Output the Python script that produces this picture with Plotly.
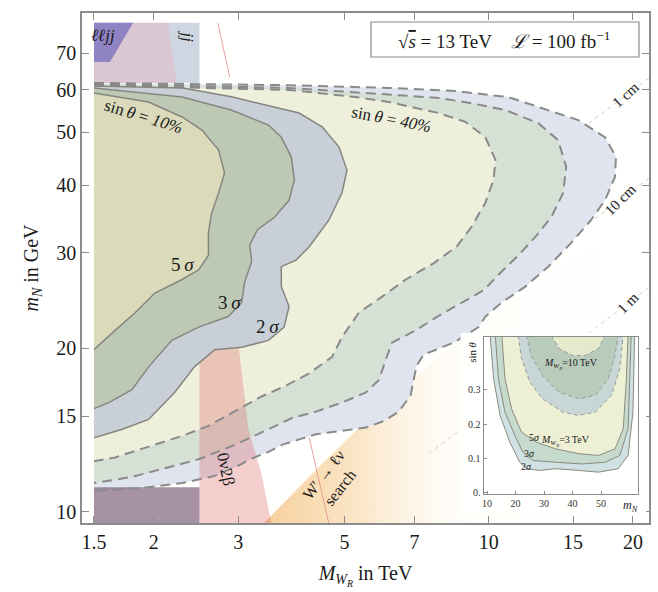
import math
import plotly.graph_objects as go

# ---------------- data (main panel: M_WR in TeV, m_N in GeV) ----------------
# sin(theta)=40% contours (dashed)
d2_x = [1.50, 3.83, 6.19, 8.53, 10.99, 12.69, 15.37, 17.48, 18.43, 18.34, 17.48, 16.35, 14.86, 13.31, 11.92,
        10.63, 9.84, 9.52, 8.45, 7.32, 7.07, 6.97, 6.87, 6.49, 6.04, 5.54, 4.87, 4.36, 4.02, 3.71, 3.47, 3.17,
        3.02, 2.68, 2.29, 1.89, 1.50]
d2_y = [61.7, 61.1, 60.4, 59.6, 58.1, 55.7, 52.7, 49.0, 45.1, 41.4, 37.5, 34.5, 31.3, 28.3, 26.0, 24.3, 22.9,
        21.9, 20.5, 19.5, 18.6, 17.5, 16.4, 15.3, 14.7, 14.3, 14.1, 13.9, 13.6, 13.3, 12.9, 12.5, 12.2, 11.65,
        11.3, 11.07, 10.93]
d3_x = [1.50, 3.83, 7.86, 9.20, 10.83, 12.69, 13.96, 14.51, 14.30, 13.50, 12.51, 11.53, 10.63, 9.75, 8.65,
        7.75, 7.04, 6.28, 6.10, 5.90, 5.54, 4.94, 4.36, 3.89, 3.47, 2.90, 2.48, 2.11, 1.80, 1.50]
d3_y = [61.4, 60.4, 57.9, 56.6, 55.0, 52.0, 48.4, 43.2, 38.7, 34.9, 32.1, 29.7, 27.7, 25.6, 24.1, 22.8, 21.6,
        20.5, 19.1, 17.5, 16.6, 15.9, 15.3, 14.9, 14.2, 13.2, 12.5, 12.05, 11.6, 11.3]
d5_x = [1.50, 3.83, 5.28, 6.19, 7.86, 8.94, 9.84, 10.33, 10.23, 9.84, 9.20, 8.57, 7.67, 6.71, 5.98, 5.36,
        4.94, 4.71, 4.22, 3.78, 3.35, 2.95, 2.60, 2.29, 1.95, 1.66, 1.50]
d5_y = [61.1, 59.9, 58.1, 56.9, 54.3, 52.3, 49.0, 44.5, 40.9, 37.1, 33.5, 30.8, 28.7, 26.8, 24.9, 23.3, 21.0,
        19.3, 18.0, 17.1, 16.3, 15.3, 14.4, 13.8, 13.2, 12.6, 12.4]
# sin(theta)=10% contours (solid)
s2_x = [1.50, 2.30, 2.92, 4.02, 4.49, 4.87, 5.06, 4.94, 4.64, 4.22, 3.96, 3.69, 3.69, 3.83, 3.74, 3.47, 3.05,
        2.68, 2.43, 2.21, 1.95, 1.72, 1.50]
s2_y = [60.9, 60.4, 58.1, 54.3, 51.2, 47.0, 42.6, 38.7, 34.5, 30.8, 29.1, 28.3, 26.0, 23.9, 21.9, 20.7, 20.1,
        19.9, 18.5, 16.6, 14.8, 14.2, 13.7]
s3_x = [1.50, 2.29, 2.90, 3.47, 3.69, 3.87, 3.93, 3.83, 3.57, 3.29, 3.17, 3.20, 3.09, 3.05, 2.86, 2.48, 2.18,
        1.95, 1.80, 1.61, 1.50]
s3_y = [60.4, 58.1, 55.0, 51.6, 49.0, 45.1, 40.9, 37.5, 34.9, 33.1, 31.0, 28.9, 26.4, 24.3, 22.9, 21.9, 20.7,
        18.5, 16.8, 15.9, 15.5]
s5_x = [1.50, 1.95, 2.29, 2.52, 2.73, 2.81, 2.73, 2.64, 2.60, 2.60, 2.48, 2.29, 2.01, 1.83, 1.66, 1.50]
s5_y = [59.1, 56.9, 53.4, 50.5, 46.4, 42.1, 38.7, 35.5, 32.7, 29.7, 27.9, 26.8, 25.3, 23.3, 21.6, 19.9]

# excluded regions
wp_x = [3.38, 4.36, 5.36, 9.07, 22.0, 22.0]          # W' -> l nu search
wp_y = [9.5, 11.95, 14.3, 21.6, 37.5, 9.5]
nb_x = [2.49, 3.00, 3.15, 3.35, 3.52, 2.49]           # 0nu2beta
nb_y = [20.5, 20.5, 14.2, 11.8, 9.5, 9.5]
jj_x = [1.50, 2.49, 2.49, 1.50]
jj_y = [61.7, 61.7, 79.6, 79.6]
lljj_x = [1.50, 2.23, 2.14, 1.50]
lljj_y = [61.7, 61.7, 79.6, 79.6]
corner_x = [1.50, 1.62, 1.81, 1.50]
corner_y = [67.4, 67.4, 79.6, 79.6]
low_x = [1.50, 2.49, 2.49, 1.50]
low_y = [9.5, 9.5, 11.1, 11.1]
pl1_x, pl1_y = [2.72, 2.88], [79.6, 63.2]
pl2_x, pl2_y = [4.22, 4.64], [13.7, 9.5]

# decay-length lines
lt_x = [7.49, 21.6]
lt_1cm_y = [31.2, 63.0]
lt_10cm_y = [20.4, 41.2]
lt_1m_y = [12.8, 25.9]

# ticks
x_ticks = [1.5, 2, 3, 5, 7, 10, 15, 20]
x_tick_text = ["1.5", "2", "3", "5", "7", "10", "15", "20"]
y_ticks = [10, 15, 20, 30, 40, 50, 60, 70]
y_tick_text = ["10", "15", "20", "30", "40", "50", "60", "70"]

# ---------------- inset data (m_N in GeV, sin theta) ----------------
is2_x = [11.1, 12.3, 14.6, 18.0, 21.5, 23.8, 28.4, 34.2, 42.2, 49.1, 56.0, 59.5, 61.2, 61.8]
is2_y = [0.46, 0.333, 0.225, 0.147, 0.088, 0.069, 0.064, 0.069, 0.064, 0.059, 0.069, 0.108, 0.234, 0.46]
is3_x = [12.9, 14.0, 16.3, 19.8, 22.6, 26.1, 34.2, 43.4, 51.4, 56.6, 59.5, 60.6]
is3_y = [0.46, 0.333, 0.235, 0.166, 0.117, 0.093, 0.088, 0.083, 0.088, 0.108, 0.186, 0.46]
is5_x = [15.2, 16.3, 18.6, 22.1, 27.3, 34.2, 42.2, 49.1, 54.9, 57.8, 58.9, 59.5]
is5_y = [0.46, 0.333, 0.245, 0.176, 0.147, 0.127, 0.113, 0.108, 0.127, 0.186, 0.333, 0.46]
id2_x = [20.9, 22.1, 25.0, 29.5, 36.5, 42.2, 48.0, 53.7, 56.6, 57.8]
id2_y = [0.46, 0.392, 0.323, 0.274, 0.235, 0.225, 0.235, 0.284, 0.362, 0.46]
id3_x = [23.8, 25.5, 29.5, 35.3, 42.2, 48.0, 52.6, 54.9, 56.0]
id3_y = [0.46, 0.401, 0.342, 0.293, 0.274, 0.284, 0.333, 0.401, 0.46]
id5_x = [32.5, 35.3, 39.9, 44.5, 49.1, 51.4]
id5_y = [0.46, 0.421, 0.401, 0.401, 0.421, 0.46]
in_x_ticks = [10, 20, 30, 40, 50]
in_y_ticks = [0, 0.1, 0.2, 0.3]
in_y_text = ["0.", "0.1", "0.2", "0.3"]

# ---------------- figure ----------------
FONT = "Liberation Serif, Times New Roman, serif"
fig = go.Figure()


def poly(x, y, color, xa="x", ya="y"):
    fig.add_trace(go.Scatter(x=x, y=y, mode="lines", fill="toself", fillcolor=color,
                             line=dict(width=0), hoverinfo="skip", showlegend=False,
                             xaxis=xa, yaxis=ya))


def curve(x, y, color, width, dash="solid", xa="x", ya="y"):
    fig.add_trace(go.Scatter(x=x, y=y, mode="lines", line=dict(color=color, width=width, dash=dash),
                             hoverinfo="skip", showlegend=False, xaxis=xa, yaxis=ya))


# decay length lines
for ly in (lt_1cm_y, lt_10cm_y, lt_1m_y):
    curve(lt_x, ly, "rgba(170,170,170,0.6)", 1, "4px,4px")

# W' search region with fading gradient
fig.add_trace(go.Scatter(x=wp_x, y=wp_y, mode="lines", fill="toself", line=dict(width=0),
                         fillgradient=dict(type="horizontal",
                                           colorscale=[[0, "rgba(240,175,90,0.6)"],
                                                       [0.25, "rgba(244,195,125,0.42)"],
                                                       [0.5, "rgba(252,235,210,0.12)"],
                                                       [1, "rgba(255,255,255,0)"]]),
                         hoverinfo="skip", showlegend=False))

# dashed contour fills
poly(d2_x, d2_y, "#dfe4ee")
poly(d3_x, d3_y, "#d6e1d5")
poly(d5_x, d5_y, "#eef0dc")
# 0nu2beta
poly(nb_x, nb_y, "rgba(222,112,112,0.34)")
# solid contour fills
poly(s2_x, s2_y, "#c8cfd6")
poly(s3_x, s3_y, "#bec9b5")
poly(s5_x, s5_y, "#dbdbbc")
# collider exclusions
poly(jj_x, jj_y, "rgba(120,145,175,0.36)")
poly(lljj_x, lljj_y, "rgba(245,166,184,0.32)")
poly(corner_x, corner_y, "rgba(118,108,190,0.75)")
poly(low_x, low_y, "rgba(120,90,115,0.66)")
curve(pl1_x, pl1_y, "rgba(225,140,140,0.8)", 1)
curve(pl2_x, pl2_y, "rgba(225,140,140,0.8)", 1)

# contour lines
for cx, cy in ((d2_x, d2_y), (d3_x, d3_y), (d5_x, d5_y)):
    curve(cx, cy, "#8a8a8a", 2, "10px,6px")
for cx, cy in ((s2_x, s2_y), (s3_x, s3_y), (s5_x, s5_y)):
    curve(cx, cy, "#868680", 1.5)

# white background for inset (subplot 2) - empty trace so the subplot exists
fig.add_trace(go.Scatter(x=[], y=[], xaxis="x2", yaxis="y2", showlegend=False))

# inset (subplot 3)
for cx, cy, col in ((is2_x, is2_y, "#d0e1e4"), (is3_x, is3_y, "#c6dacd"), (is5_x, is5_y, "#eef0d5"),
                    (id2_x, id2_y, "#c8d6d6"), (id3_x, id3_y, "#b9cbba"), (id5_x, id5_y, "#e6eacd")):
    poly(cx, cy, col, "x3", "y3")
for cx, cy in ((is2_x, is2_y), (is3_x, is3_y), (is5_x, is5_y)):
    curve(cx, cy, "#8a8a7e", 1, "solid", "x3", "y3")
for cx, cy in ((id2_x, id2_y), (id3_x, id3_y), (id5_x, id5_y)):
    curve(cx, cy, "#9a9a9a", 1, "4px,3px", "x3", "y3")

ax_col = "#8c8c8c"
fig.update_layout(
    width=658, height=592, margin=dict(l=82, r=7, t=13, b=69),
    paper_bgcolor="#ffffff", plot_bgcolor="#fffffe", showlegend=False,
    xaxis=dict(type="log", range=[math.log10(1.416), math.log10(21.6)], tickvals=x_ticks,
               ticktext=x_tick_text, ticks="inside", ticklen=7, tickcolor=ax_col, tickwidth=1.2,
               showline=True, linecolor=ax_col, linewidth=1.5, mirror="ticks", showgrid=False,
               zeroline=False, tickfont=dict(family=FONT, size=20, color="#1a1a1a"),
               title=dict(text="<i>M</i><sub><i>W</i><sub><i>R</i></sub></sub> in TeV",
                          font=dict(family=FONT, size=20, color="#1a1a1a"), standoff=14)),
    yaxis=dict(type="log", range=[math.log10(9.54), math.log10(83)], tickvals=y_ticks,
               ticktext=y_tick_text, ticks="inside", ticklen=7, tickcolor=ax_col, tickwidth=1.2,
               showline=True, linecolor=ax_col, linewidth=1.5, mirror="ticks", showgrid=False,
               zeroline=False, tickfont=dict(family=FONT, size=20, color="#1a1a1a"),
               title=dict(text="<i>m</i><sub><i>N</i></sub> in GeV",
                          font=dict(family=FONT, size=20, color="#1a1a1a"), standoff=12)),
    xaxis2=dict(domain=[0.6678, 0.9947], anchor="y2", range=[0, 1], visible=False),
    yaxis2=dict(domain=[0.0216, 0.3725], anchor="x2", range=[0, 1], visible=False),
    xaxis3=dict(domain=[0.7083, 0.9807], anchor="y3", range=[8.8, 63], tickvals=in_x_ticks,
                ticks="inside", ticklen=3, tickcolor=ax_col, showline=True, linecolor=ax_col,
                linewidth=1.2, mirror=True, showgrid=False, zeroline=False,
                tickfont=dict(family=FONT, size=10, color="#333")),
    yaxis3=dict(domain=[0.0569, 0.3647], anchor="x3", range=[-0.005, 0.455], tickvals=in_y_ticks,
                ticktext=in_y_text, ticks="inside", ticklen=3, tickcolor=ax_col, showline=True,
                linecolor=ax_col, linewidth=1.2, mirror=True, showgrid=False, zeroline=False,
                tickfont=dict(family=FONT, size=10, color="#333")),
)

# box with collider info
fig.add_shape(type="rect", xref="paper", yref="paper", x0=0.5097, x1=0.9824, y0=0.9137, y1=0.9824,
              line=dict(color=ax_col, width=1.2), fillcolor="rgba(0,0,0,0)")

anns = []


def ann(text, x, y, size=18, angle=0, italic=False, ref="main", color="#1a1a1a"):
    if ref == "main":
        xr, yr, xx, yy = "x", "y", math.log10(x), math.log10(y)
    elif ref == "inset":
        xr, yr, xx, yy = "x3", "y3", x, y
    else:
        xr, yr, xx, yy = ref[0], ref[1], x, y
    t = "<i>%s</i>" % text if italic else text
    anns.append(dict(text=t, x=xx, y=yy, xref=xr, yref=yr, showarrow=False, textangle=angle,
                     xanchor="center", yanchor="middle",
                     font=dict(family=FONT, size=size, color=color)))


ann("\u221a<span style='text-decoration:overline'><i>s</i></span> = 13 TeV\u00a0\u00a0\u00a0\u00a0"
    "<i>\u2112</i> = 100 fb<sup>\u22121</sup>", 0.745, 0.947, 19, ref=("paper", "paper"))
ann("sin\u2009<i>\u03b8</i> = <i>10%</i>", 1.90, 53.4, 17, 17)
ann("sin\u2009<i>\u03b8</i> = <i>40%</i>", 6.28, 52.9, 17, 11)
ann("5\u2009<i>\u03c3</i>", 2.30, 28.6, 19)
ann("3\u2009<i>\u03c3</i>", 2.88, 24.3, 19)
ann("2\u2009<i>\u03c3</i>", 3.45, 22.0, 19)
ann("0\u03bd2\u03b2", 2.82, 12.0, 17, 78)
ann("W\u2032 \u2192 \u2113\u03bd<br>search", 4.71, 11.4, 16, -52)
ann("\u2113\u2113<i>jj</i>", 1.57, 75.3, 17, 0, True)
ann("<i>jj</i>", 2.35, 75.0, 17, 90)
ann("1 cm", 19.3, 58.6, 15, -42)
ann("10 cm", 18.8, 37.5, 15, -45)
ann("1 m", 19.5, 24.3, 15, -45)
# inset texts
ann("sin\u2009<i>\u03b8</i>", -0.075, 0.9, 11, -90, ref=("x3 domain", "y3 domain"))
ann("<i>m<sub>N</sub></i>", 0.95, -0.075, 12, ref=("x3 domain", "y3 domain"))
ann("5<i>\u03c3</i>", 26.5, 0.16, 10, ref="inset")
ann("3<i>\u03c3</i>", 25.0, 0.115, 10, ref="inset")
ann("2<i>\u03c3</i>", 24.0, 0.075, 10, ref="inset")
ann("<i>M<sub>W<sub>R</sub></sub></i>=3\u2009TeV", 37.5, 0.15, 10, ref="inset")
ann("<i>M<sub>W<sub>R</sub></sub></i>=10\u2009TeV", 39.5, 0.375, 10, ref="inset")

fig.update_layout(annotations=anns)
fig.write_html("out.html")
